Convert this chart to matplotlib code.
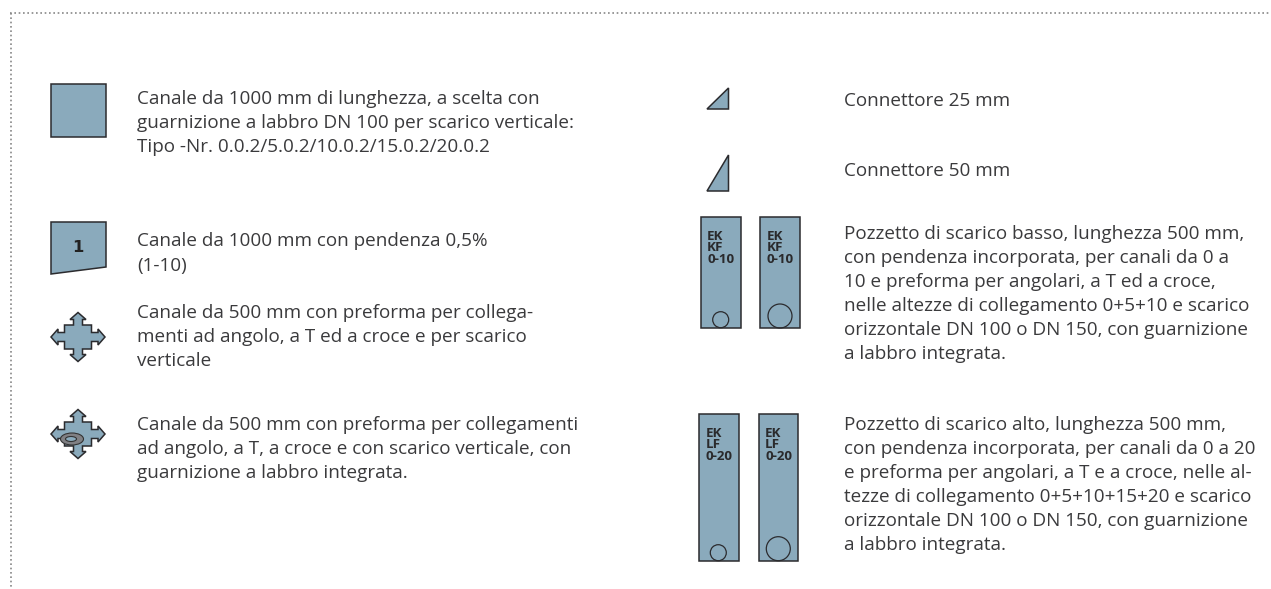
import matplotlib
matplotlib.use('Agg')
import matplotlib.pyplot as plt
from matplotlib.patches import Polygon, Circle, Ellipse, Rectangle

W, H = 1271, 589
FILL = '#8aaabc'
EDGE = '#2b2b2e'
TXT = '#3a3a3c'

left_texts = [
    ['Canale da 1000 mm di lunghezza, a scelta con',
     'guarnizione a labbro DN 100 per scarico verticale:',
     'Tipo -Nr. 0.0.2/5.0.2/10.0.2/15.0.2/20.0.2'],
    ['Canale da 1000 mm con pendenza 0,5%',
     '(1-10)'],
    ['Canale da 500 mm con preforma per collega-',
     'menti ad angolo, a T ed a croce e per scarico',
     'verticale'],
    ['Canale da 500 mm con preforma per collegamenti',
     'ad angolo, a T, a croce e con scarico verticale, con',
     'guarnizione a labbro integrata.'],
]
left_tops = [104, 246.5, 317.7, 430]

right_texts = [
    ['Connettore 25 mm'],
    ['Connettore 50 mm'],
    ['Pozzetto di scarico basso, lunghezza 500 mm,',
     'con pendenza incorporata, per canali da 0 a',
     '10 e preforma per angolari, a T ed a croce,',
     'nelle altezze di collegamento 0+5+10 e scarico',
     'orizzontale DN 100 o DN 150, con guarnizione',
     'a labbro integrata.'],
    ['Pozzetto di scarico alto, lunghezza 500 mm,',
     'con pendenza incorporata, per canali da 0 a 20',
     'e preforma per angolari, a T e a croce, nelle al-',
     'tezze di collegamento 0+5+10+15+20 e scarico',
     'orizzontale DN 100 o DN 150, con guarnizione',
     'a labbro integrata.'],
]
right_tops = [106.5, 175.7, 239, 430]

# well boxes: x, y top, width, height, hole cx, hole cy, hole radius, code lines
wells = [
    (700.7, 216.7, 40, 111, 720.7, 319.7, 8, ['EK', 'KF', '0-10']),
    (760, 216.7, 39.5, 111, 780, 316, 12, ['EK', 'KF', '0-10']),
    (699, 414, 39.5, 147, 718.3, 552.7, 8, ['EK', 'LF', '0-20']),
    (758.7, 414, 39.5, 147, 778.3, 548.7, 12, ['EK', 'LF', '0-20']),
]

plt.rcParams['font.family'] = ['Open Sans', 'DejaVu Sans']

fig = plt.figure(figsize=(W / 100, H / 100), dpi=100)
ax = fig.add_axes([0, 0, 1, 1])
ax.set_xlim(0, W)
ax.set_ylim(H, 0)
ax.axis('off')

# dotted frame
ax.plot([10, W], [13, 13], color='#888888', lw=1.2, dashes=(1, 1.6))
ax.plot([10.5, 10.5], [13, H], color='#888888', lw=1.2, dashes=(1, 1.6))


def shape(pts, lw=1.1):
    ax.add_patch(Polygon(pts, closed=True, fc=FILL, ec=EDGE, lw=lw, joinstyle='miter'))


def cross(cx, cy):
    bx, by = 13.5, 12      # square half sizes
    s = 4.5                # shaft half width
    h = 8                  # arrow head half width
    tx, ty = 27, 24.5      # tip distance
    l = 7                  # head length
    pts = [(cx - s, cy - by), (cx - s, cy - ty + l), (cx - h, cy - ty + l), (cx, cy - ty),
           (cx + h, cy - ty + l), (cx + s, cy - ty + l), (cx + s, cy - by), (cx + bx, cy - by),
           (cx + bx, cy - s), (cx + tx - l, cy - s), (cx + tx - l, cy - h), (cx + tx, cy),
           (cx + tx - l, cy + h), (cx + tx - l, cy + s), (cx + bx, cy + s), (cx + bx, cy + by),
           (cx + s, cy + by), (cx + s, cy + ty - l), (cx + h, cy + ty - l), (cx, cy + ty),
           (cx - h, cy + ty - l), (cx - s, cy + ty - l), (cx - s, cy + by), (cx - bx, cy + by),
           (cx - bx, cy + s), (cx - tx + l, cy + s), (cx - tx + l, cy + h), (cx - tx, cy),
           (cx - tx + l, cy - h), (cx - tx + l, cy - s), (cx - bx, cy - s), (cx - bx, cy - by)]
    shape(pts)


shape([(51, 84), (106, 84), (106, 137), (51, 137)])
shape([(51, 222), (106, 222), (106, 267), (51, 274)])
ax.text(78, 248, '1', ha='center', va='center', fontsize=11.8, fontweight='bold',
        family=['DejaVu Sans'], color='#222222')
cross(78, 337)
cross(78, 434)
ax.add_patch(Ellipse((72, 439), 23, 12, fc='#808084', ec='#333333', lw=0.8))
ax.add_patch(Ellipse((71, 439), 11, 5, fc=FILL, ec='#333333', lw=0.8))

# connectors
shape([(707, 109), (728.5, 88), (728.5, 109)])
shape([(707, 191), (728.5, 155), (728.5, 191)])

for x, y, w, h, hx, hy, r, code in wells:
    ax.add_patch(Rectangle((x, y), w, h, fc=FILL, ec=EDGE, lw=1.1))
    ax.add_patch(Circle((hx, hy), r, fc='none', ec=EDGE, lw=0.9))
    for i, s in enumerate(code):
        ax.text(x + 6.5, y + 19.3 + i * 11.6, s, fontsize=9.6, fontweight='bold', family=['Open Sans'],
                color='#2a2a2c', va='center')

STEP = 24
for lines, top in zip(left_texts, left_tops):
    for i, s in enumerate(lines):
        ax.text(137, top + i * STEP, s, fontsize=13.6, color=TXT, va='baseline')
for lines, top in zip(right_texts, right_tops):
    for i, s in enumerate(lines):
        ax.text(844, top + i * STEP, s, fontsize=13.6, color=TXT, va='baseline')

fig.savefig('out.png', dpi=100)
